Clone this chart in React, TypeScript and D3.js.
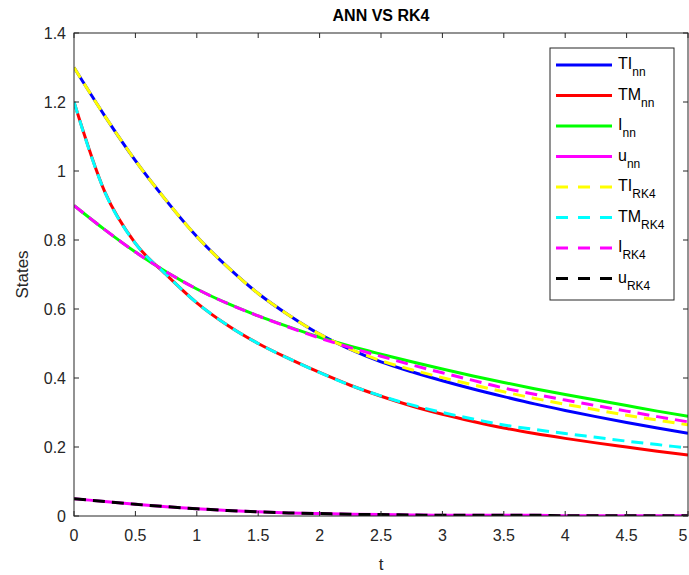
import React from "react";
import * as d3 from "d3";

// time grid shared by all series
const tValues = [0, 0.25, 0.5, 0.75, 1, 1.25, 1.5, 1.75, 2, 2.25, 2.5, 2.75, 3, 3.25, 3.5, 3.75, 4, 4.25, 4.5, 4.75, 5];

// ANN solutions
const tiNN = [1.3, 1.16, 1.03, 0.915, 0.81, 0.722, 0.645, 0.582, 0.527, 0.483, 0.447, 0.418, 0.392, 0.368, 0.346, 0.325, 0.306, 0.288, 0.271, 0.255, 0.24];
const tmNN = [1.2, 0.94, 0.79, 0.7, 0.618, 0.553, 0.5, 0.456, 0.416, 0.379, 0.347, 0.319, 0.295, 0.274, 0.255, 0.239, 0.225, 0.212, 0.2, 0.188, 0.177];
const iNN = [0.9, 0.83, 0.765, 0.708, 0.658, 0.616, 0.58, 0.548, 0.518, 0.492, 0.469, 0.447, 0.426, 0.406, 0.387, 0.369, 0.352, 0.336, 0.32, 0.304, 0.289];
const uNN = [0.05, 0.042, 0.034, 0.027, 0.021, 0.016, 0.012, 0.009, 0.007, 0.005, 0.004, 0.003, 0.002, 0.002, 0.002, 0.002, 0.001, 0.001, 0.001, 0.001, 0.001];

// RK4 solutions
const tiRK4 = [1.3, 1.16, 1.03, 0.915, 0.81, 0.722, 0.645, 0.582, 0.527, 0.484, 0.45, 0.424, 0.401, 0.38, 0.36, 0.341, 0.324, 0.308, 0.292, 0.278, 0.264];
const tmRK4 = [1.2, 0.94, 0.79, 0.7, 0.618, 0.553, 0.5, 0.456, 0.416, 0.379, 0.348, 0.322, 0.3, 0.281, 0.264, 0.251, 0.239, 0.228, 0.217, 0.207, 0.197];
const iRK4 = [0.9, 0.83, 0.765, 0.708, 0.658, 0.616, 0.58, 0.547, 0.516, 0.488, 0.463, 0.438, 0.415, 0.393, 0.371, 0.353, 0.336, 0.32, 0.304, 0.288, 0.273];
const uRK4 = [0.05, 0.042, 0.034, 0.027, 0.021, 0.016, 0.012, 0.009, 0.007, 0.005, 0.004, 0.003, 0.002, 0.002, 0.002, 0.002, 0.001, 0.001, 0.001, 0.001, 0.001];

const xTicks = [0, 0.5, 1, 1.5, 2, 2.5, 3, 3.5, 4, 4.5, 5];
const yTicks = [0, 0.2, 0.4, 0.6, 0.8, 1, 1.2, 1.4];

const series = [
  { name: "TI", sub: "nn", values: tiNN, color: "#0000ff", dashed: false },
  { name: "TM", sub: "nn", values: tmNN, color: "#ff0000", dashed: false },
  { name: "I", sub: "nn", values: iNN, color: "#00ff00", dashed: false },
  { name: "u", sub: "nn", values: uNN, color: "#ff00ff", dashed: false },
  { name: "TI", sub: "RK4", values: tiRK4, color: "#ffff00", dashed: true },
  { name: "TM", sub: "RK4", values: tmRK4, color: "#00ffff", dashed: true },
  { name: "I", sub: "RK4", values: iRK4, color: "#ff00ff", dashed: true },
  { name: "u", sub: "RK4", values: uRK4, color: "#000000", dashed: true },
];

const W = 689;
const H = 575;
const margin = { left: 74, right: 1, top: 33, bottom: 59 };
const font = "'Liberation Sans', Arial, Helvetica, sans-serif";
const axisColor = "#262626";

export default function App() {
  const x = d3.scaleLinear().domain([0, 5]).range([margin.left, W - margin.right]);
  const y = d3.scaleLinear().domain([0, 1.4]).range([H - margin.bottom, margin.top]);

  const line = d3
    .line<number>()
    .x((_, i) => x(tValues[i]))
    .y((d) => y(d))
    .curve(d3.curveMonotoneX);

  const x0 = x(0), x1 = x(5), y0 = y(0), y1 = y(1.4);
  const tick = 5;

  // legend layout
  const lgX = 550, lgY = 48, lgW = 124, rowH = 30.5;
  const lgH = rowH * series.length + 8;

  return (
    <div style={{ position: "absolute", left: 0, top: 0 }}>
      <svg width={W} height={H} style={{ display: "block", background: "#fff" }}>
        <defs>
          <clipPath id="plot">
            <rect x={x0} y={y1} width={x1 - x0} height={y0 - y1} />
          </clipPath>
        </defs>

        {/* data */}
        <g clipPath="url(#plot)">
          {series.map((s, i) => (
            <path
              key={i}
              d={line(s.values) || ""}
              fill="none"
              stroke={s.color}
              strokeWidth={3}
              strokeDasharray={s.dashed ? "12 7" : undefined}
            />
          ))}
        </g>

        {/* axes box */}
        <rect x={x0} y={y1} width={x1 - x0} height={y0 - y1} fill="none" stroke={axisColor} strokeWidth={1} />

        {xTicks.map((t) => (
          <g key={"x" + t}>
            <line x1={x(t)} x2={x(t)} y1={y0} y2={y0 - tick} stroke={axisColor} />
            <line x1={x(t)} x2={x(t)} y1={y1} y2={y1 + tick} stroke={axisColor} />
            <text
              x={Math.min(x(t), W - 6)}
              y={y0 + 25}
              textAnchor="middle"
              fontFamily={font}
              fontSize={16}
              fill={axisColor}
            >
              {String(t)}
            </text>
          </g>
        ))}
        {yTicks.map((v) => (
          <g key={"y" + v}>
            <line x1={x0} x2={x0 + tick} y1={y(v)} y2={y(v)} stroke={axisColor} />
            <line x1={x1} x2={x1 - tick} y1={y(v)} y2={y(v)} stroke={axisColor} />
            <text x={x0 - 8} y={y(v) + 6} textAnchor="end" fontFamily={font} fontSize={16} fill={axisColor}>
              {String(v)}
            </text>
          </g>
        ))}

        {/* labels */}
        <text x={(x0 + x1) / 2} y={21} textAnchor="middle" fontFamily={font} fontSize={16} fontWeight="bold" fill="#000">
          ANN VS RK4
        </text>
        <text x={(x0 + x1) / 2} y={570} textAnchor="middle" fontFamily={font} fontSize={17} fill={axisColor}>
          t
        </text>
        <text
          transform={`translate(28, ${(y0 + y1) / 2}) rotate(-90)`}
          textAnchor="middle"
          fontFamily={font}
          fontSize={17}
          fill={axisColor}
        >
          States
        </text>

        {/* legend */}
        <rect x={lgX} y={lgY} width={lgW} height={lgH} fill="#fff" stroke={axisColor} strokeWidth={1} />
        {series.map((s, i) => {
          const ry = lgY + 17 + i * rowH;
          return (
            <g key={"lg" + i}>
              <line
                x1={lgX + 6}
                x2={lgX + 62}
                y1={ry}
                y2={ry}
                stroke={s.color}
                strokeWidth={3}
                strokeDasharray={s.dashed ? "12 10" : undefined}
              />
              <text x={lgX + 68} y={ry + 4} fontFamily={font} fontSize={16} fill="#000">
                {s.name}
                <tspan dy={7} fontSize={12}>
                  {s.sub}
                </tspan>
              </text>
            </g>
          );
        })}
      </svg>
    </div>
  );
}
